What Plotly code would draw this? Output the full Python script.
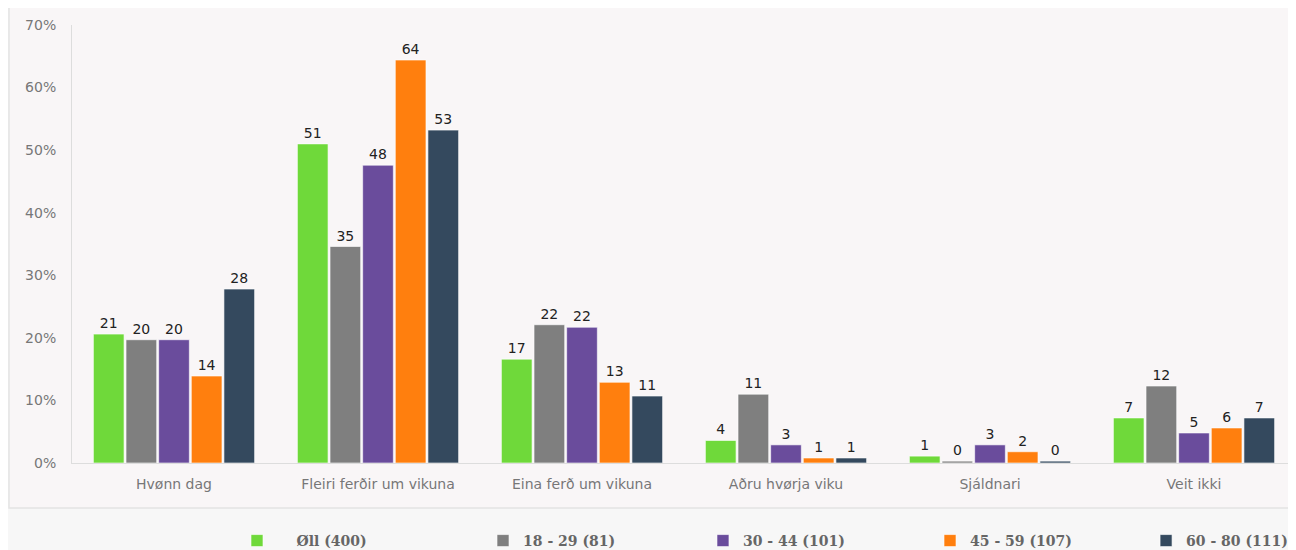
import plotly.graph_objects as go

categories = ["Hvønn dag", "Fleiri ferðir um vikuna", "Eina ferð um vikuna",
              "Aðru hvørja viku", "Sjáldnari", "Veit ikki"]

series_names = ["\u00a0\u00a0\u00a0\u00a0Øll (400)", "18 - 29 (81)", "30 - 44 (101)",
                "45 - 59 (107)", "60 - 80 (111)"]
series_colors = ["#6fd93a", "#7f7f7f", "#6a4c9c", "#ff7f0e", "#34495e"]

oll = [20.6, 51.0, 16.6, 3.6, 1.1, 7.2]
age_18_29 = [19.7, 34.6, 22.1, 11.0, 0.3, 12.3]
age_30_44 = [19.7, 47.6, 21.7, 2.9, 2.9, 4.8]
age_45_59 = [13.9, 64.4, 12.9, 0.8, 1.8, 5.6]
age_60_80 = [27.8, 53.2, 10.7, 0.8, 0.3, 7.2]

series_values = [oll, age_18_29, age_30_44, age_45_59, age_60_80]

y_tickvals = [0, 10, 20, 30, 40, 50, 60, 70]
y_ticktext = ["0%", "10%", "20%", "30%", "40%", "50%", "60%", "70%"]

legend_x = [0.1348, 0.3358, 0.5155, 0.7010, 0.8775]

fig = go.Figure()
legend_layouts = {}
for i, (name, color, vals) in enumerate(zip(series_names, series_colors, series_values)):
    lg = "legend" if i == 0 else f"legend{i + 1}"
    fig.add_trace(go.Bar(
        x=categories, y=vals, name=name, legend=lg,
        marker=dict(color=color, line=dict(color="rgba(255,255,255,0.6)", width=1)),
        texttemplate="%{y:.0f}", textposition="outside",
        textfont=dict(family="DejaVu Sans", size=14, color="#222222"),
        cliponaxis=False,
    ))
    legend_layouts[lg] = dict(
        orientation="h", x=legend_x[i], xanchor="left",
        y=-0.178, yanchor="middle",
        font=dict(family="DejaVu Serif", size=14, color="#666666", weight="bold"),
        bgcolor="rgba(0,0,0,0)",
    )

fig.update_layout(
    width=1288, height=542,
    margin=dict(l=64, r=0, t=17, b=87, autoexpand=False),
    paper_bgcolor="#f7f7f7",
    plot_bgcolor="rgba(0,0,0,0)",
    barmode="group",
    bargap=0.2,
    bargroupgap=0.06,
    font=dict(family="DejaVu Sans", size=14, color="#777777"),
    showlegend=True,
    shapes=[dict(
        type="rect", xref="paper", yref="paper",
        x0=-0.0515, x1=1.02, y0=-0.1027, y1=1.0457,
        line=dict(color="#e4e4e4", width=1.5), fillcolor="#f9f6f7", layer="below",
    )],
    **legend_layouts,
)

fig.update_xaxes(
    showline=True, linecolor="#dddddd", linewidth=1,
    showgrid=False, ticks="", ticklabelstandoff=8,
    tickfont=dict(size=14, color="#777777"),
)
fig.update_yaxes(
    range=[0, 70], tickvals=y_tickvals, ticktext=y_ticktext,
    showline=True, linecolor="#dddddd", linewidth=1,
    showgrid=False, zeroline=False, ticks="", ticklabelstandoff=12,
    tickfont=dict(size=14, color="#777777"),
)

fig.write_html("out.html")
